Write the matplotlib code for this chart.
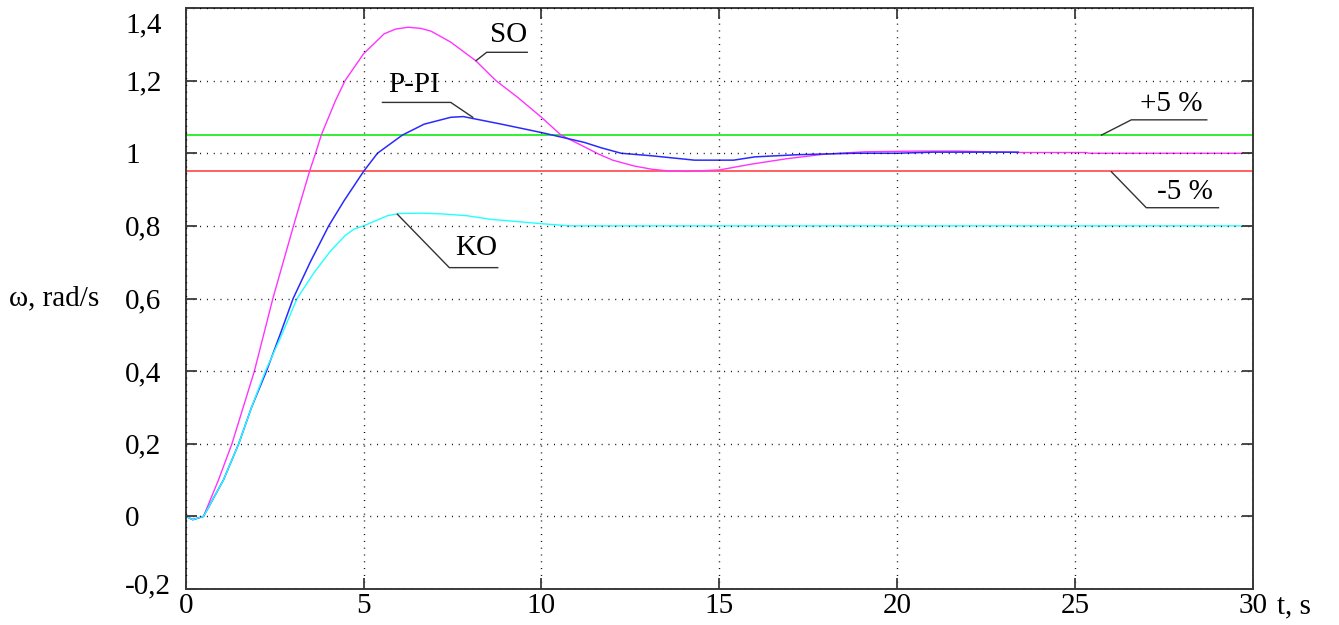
import matplotlib
matplotlib.use("Agg")
import matplotlib.pyplot as plt
from matplotlib.transforms import ScaledTranslation

plt.rcParams['font.family'] = ['Liberation Serif', 'DejaVu Serif']

# ---- data ----
t_so = [0, 0.2, 0.5, 0.92, 1.3, 1.93, 2.45, 3.03, 3.48, 3.65, 3.81, 4.21, 4.48, 4.64, 5.0, 5.58,
        5.9, 6.25, 6.6, 6.9, 7.45, 8.15, 8.72, 9.33, 10.0, 10.55, 11.2, 11.6, 12.0, 12.6, 13.1,
        13.6, 14.1, 15.0, 15.9, 16.9, 18.0, 19.1, 20.6, 21.7, 23.5, 25.3, 25.4, 30]
so = [0, -0.009, 0, 0.1, 0.2, 0.4, 0.6, 0.8, 0.95, 1.0, 1.05, 1.145, 1.2, 1.223, 1.274, 1.329,
      1.342, 1.347, 1.344, 1.336, 1.306, 1.255, 1.2, 1.154, 1.099, 1.05, 1.018, 0.998, 0.981, 0.965, 0.956,
      0.951, 0.95, 0.954, 0.970, 0.985, 0.998, 1.004, 1.006, 1.006, 1.002, 1.002, 1.0, 1.0]

t_pi = [0, 0.2, 0.5, 1.06, 1.49, 1.85, 2.27, 2.65, 3.02, 3.5, 4.02, 4.45, 5.0, 5.39, 6.09,
        6.7, 7.45, 7.8, 8.88, 10.0, 11.2, 11.68, 12.24, 13.1, 14.3, 15.4, 16.0, 17.2, 18.8,
        20.0, 21.0, 23.4]
p_pi = [0, -0.009, 0, 0.1, 0.2, 0.3, 0.4, 0.5, 0.6, 0.7, 0.8, 0.869, 0.95, 1.0, 1.05,
        1.08, 1.099, 1.101, 1.08, 1.057, 1.03, 1.015, 1.0, 0.993, 0.981, 0.981, 0.99, 0.996, 1.0,
        1.0, 1.003, 1.003]

t_ko = [0, 0.2, 0.5, 1.06, 1.49, 1.85, 2.24, 2.7, 3.13, 3.6, 4.07, 4.49, 4.73, 5.0, 5.67,
        6.0, 6.6, 7.2, 7.9, 8.58, 9.3, 10.0, 10.8, 30]
ko = [0, -0.009, 0, 0.1, 0.2, 0.3, 0.4, 0.5, 0.6, 0.67, 0.731, 0.774, 0.791, 0.8, 0.828,
      0.834, 0.835, 0.833, 0.828, 0.818, 0.812, 0.806, 0.80, 0.80]

upper_band = 1.05
lower_band = 0.95

x_ticks = [0, 5, 10, 15, 20, 25, 30]
x_tick_labels = ['0', '5', '10', '15', '20', '25', '30']
y_ticks = [-0.2, 0, 0.2, 0.4, 0.6, 0.8, 1.0, 1.2, 1.4]
y_tick_labels = ['-0,2', '0', '0,2', '0,4', '0,6', '0,8', '1', '1,2', '1,4']

# annotation labels: (text, text position, leader polyline)
annotations = [
    ('SO',   (9.09, 1.327), [(8.16, 1.255), (8.46, 1.278), (9.60, 1.278)]),
    ('P-PI', (6.42, 1.189), [(5.53, 1.140), (7.45, 1.140), (8.07, 1.099)]),
    ('KO',   (8.16, 0.738), [(5.95, 0.832), (7.41, 0.685), (8.77, 0.685)]),
    ('+5 %', (27.70, 1.137), [(25.74, 1.050), (26.58, 1.092), (28.70, 1.092)]),
    ('-5 %', (28.08, 0.894), [(26.02, 0.949), (27.00, 0.850), (29.03, 0.850)]),
]

FS = 21

# ---- figure ----
W, H = 1339, 625
fig = plt.figure(figsize=(W / 100, H / 100), dpi=100)
x0, x1, ytop, ybot = 185.7, 1253.0, 8.0, 589.0
ax = fig.add_axes([x0 / W, 1 - ybot / H, (x1 - x0) / W, (ybot - ytop) / H])

ax.axhline(upper_band, color='#22ee22', lw=1.3, zorder=1.5)
ax.axhline(lower_band, color='#ff5555', lw=1.3, zorder=1.5)
ax.plot(t_so, so, color='#ff33ff', lw=1.0, zorder=2.0)
ax.plot(t_pi, p_pi, color='#2a2aff', lw=1.1, zorder=2.1)
ax.plot(t_ko, ko, color='#22ffff', lw=1.0, zorder=2.2)

ax.set_xlim(0, 30)
ax.set_ylim(-0.2, 1.4)
ax.set_xticks(x_ticks)
ax.set_xticklabels(x_tick_labels)
ax.set_yticks(y_ticks)
ax.set_yticklabels(y_tick_labels)

ax.set_axisbelow(False)
ax.grid(True, color='black', lw=1.0, linestyle=(0, (0.7, 4.2)))

for sp in ax.spines.values():
    sp.set_color('#3a3a3a')
    sp.set_linewidth(1.4)

ax.tick_params(axis='both', direction='in', length=8, width=1.3, color='#3a3a3a',
               top=True, right=True, labelsize=FS)
ax.tick_params(axis='x', pad=3)
ax.tick_params(axis='y', pad=43.5)
for lab in ax.get_yticklabels():
    lab.set_horizontalalignment('left')

ylabs = ax.get_yticklabels()
ylabs[-1].set_transform(ylabs[-1].get_transform() + ScaledTranslation(0, -14 / 100, fig.dpi_scale_trans))
ylabs[0].set_transform(ylabs[0].get_transform() + ScaledTranslation(0, 6 / 100, fig.dpi_scale_trans))

ax.set_ylabel('ω, rad/s', rotation=0, fontsize=FS, ha='left', va='center')
ax.yaxis.set_label_coords((9 - x0) / (x1 - x0), (ybot - 298) / (ybot - ytop))
ax.set_xlabel('t, s', fontsize=FS, ha='left', va='center')
ax.xaxis.set_label_coords((1277 - x0) / (x1 - x0), (ybot - 606) / (ybot - ytop))

for text, (tx, ty), pts in annotations:
    xs = [p[0] for p in pts]
    ys = [p[1] for p in pts]
    ax.plot(xs, ys, color='#333333', lw=1.0, zorder=3)
    ax.text(tx, ty, text, fontsize=FS, ha='center', va='center', zorder=3)

fig.savefig('out.png', dpi=100, facecolor='white')
